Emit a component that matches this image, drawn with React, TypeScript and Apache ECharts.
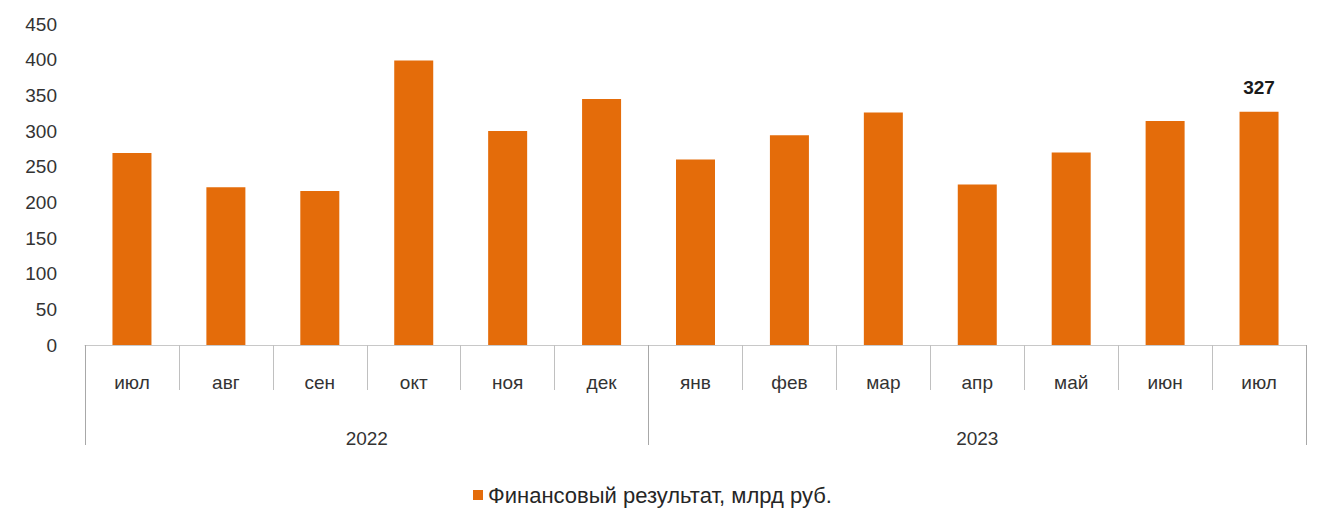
import React, { useEffect, useRef } from "react";
import * as echarts from "echarts";

const months = ["июл", "авг", "сен", "окт", "ноя", "дек", "янв", "фев", "мар", "апр", "май", "июн", "июл"];
const values = [269, 221, 216, 399, 300, 345, 260, 294, 326, 225, 270, 314, 327];
const yearSlots = ["", "", "", "", "", "", "2022", "", "", "", "", "", "", "", "", "", "", "", "", "2023", "", "", "", "", "", "", ""];
const yearBoundaries = [0, 12, 26];
const seriesName = "Финансовый результат, млрд руб.";
const labelledIndex = 12;

const FONT = "'Liberation Sans', Arial, sans-serif";

export default function App() {
  const ref = useRef<HTMLDivElement>(null);
  useEffect(() => {
    if (!ref.current) return;
    const chart = echarts.init(ref.current, null, { renderer: "svg" });
    chart.setOption({
      animation: false,
      textStyle: { fontFamily: FONT },
      grid: { left: 77, right: 4, top: 16, bottom: 170, containLabel: false },
      legend: {
        data: [seriesName],
        bottom: 4,
        left: 460,
        icon: "rect",
        itemWidth: 10,
        itemHeight: 10,
        itemGap: 10,
        textStyle: { fontSize: 22, color: "#262626", fontFamily: FONT },
      },
      xAxis: [
        {
          type: "category",
          data: months,
          position: "bottom",
          axisLine: { show: true, lineStyle: { color: "#C8C8C8", width: 1 } },
          axisTick: { show: true, length: 45, lineStyle: { color: "#C0C0C0" } },
          axisLabel: { margin: 28, fontSize: 19, color: "#333333", interval: 0 },
        },
        {
          type: "category",
          data: yearSlots,
          position: "bottom",
          boundaryGap: false,
          axisLine: { show: false },
          axisTick: {
            show: true,
            length: 100,
            interval: (i: number) => yearBoundaries.includes(i),
            lineStyle: { color: "#A8A8A8" },
          },
          axisLabel: { margin: 84, fontSize: 19, color: "#333333", interval: 0 },
        },
      ],
      yAxis: {
        type: "value",
        min: 0,
        max: 450,
        interval: 50,
        axisLine: { show: false },
        axisTick: { show: false },
        splitLine: { show: false },
        axisLabel: { fontSize: 19, color: "#333333", margin: 28 },
      },
      series: [
        {
          name: seriesName,
          type: "bar",
          xAxisIndex: 0,
          data: values.map((v, i) =>
            i === labelledIndex
              ? {
                  value: v,
                  label: {
                    show: true,
                    position: "top",
                    distance: 15,
                    fontSize: 19,
                    fontWeight: "bold",
                    color: "#1a1a1a",
                  },
                }
              : v
          ),
          barWidth: 39,
          itemStyle: { color: "#E46C0A" },
        },
      ],
    });
    return () => chart.dispose();
  }, []);
  return <div ref={ref} style={{ width: 1302, height: 507 }} />;
}
